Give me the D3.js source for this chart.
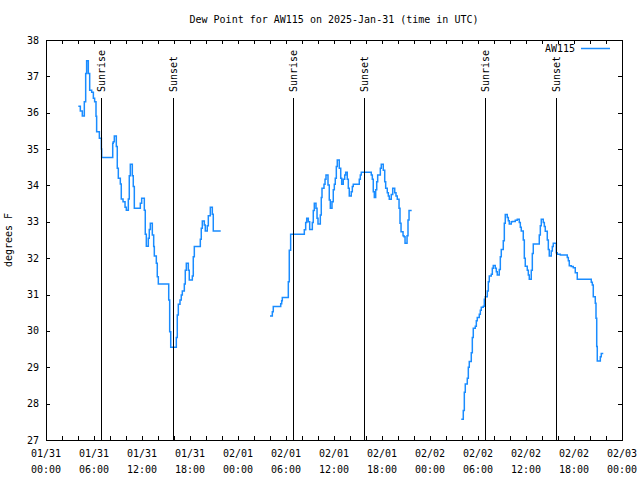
<!DOCTYPE html>
<html><head><meta charset="utf-8">
<script src="https://cdn.jsdelivr.net/npm/d3@7"></script>
<style>
body{margin:0;background:#fff}
text{font-family:"DejaVu Sans Mono","Liberation Mono",monospace;font-size:10px;fill:#000}
</style>
</head><body>
<svg id="chart" width="640" height="480"></svg>
<script>
// ---------- data ----------
const chartTitle = "Dew Point for AW115 on 2025-Jan-31 (time in UTC)";
const seriesName = "AW115";
const yAxisLabel = "degrees F";
const startUTC = Date.UTC(2025, 0, 31, 0, 0);
const endUTC = Date.UTC(2025, 1, 3, 0, 0);
const yTickValues = [27, 28, 29, 30, 31, 32, 33, 34, 35, 36, 37, 38];
const xLabelHours = [0, 6, 12, 18, 24, 30, 36, 42, 48, 54, 60, 66, 72];
const xMinorHours = d3.range(0, 73, 2);
const sunriseHours = [6.9, 30.9, 54.86];
const sunsetHours = [15.83, 39.79, 63.78];

// hours after 2025-01-31 00:00 UTC, and dew point (F)
const hours1 = [4.04,4.29,4.54,4.79,4.96,5.08,5.29,5.46,5.71,5.92,6.08,6.25,6.33,6.67,6.92,6.96,8.34,8.41,8.54,8.79,8.91,9.04,9.29,9.41,9.63,9.88,10.04,10.29,10.41,10.54,10.79,10.91,11.04,11.79,11.96,12.29,12.41,12.54,12.79,12.91,13.04,13.29,13.46,13.54,13.79,13.91,14.04,15.34,15.46,15.59,16.29,16.41,16.54,16.75,16.91,17.04,17.29,17.41,17.54,17.79,17.91,18.29,18.41,18.54,19.29,19.41,19.54,19.79,19.91,20.16,20.29,20.54,20.79,20.91,21.84];
const values1 = [36.18,36.05,35.91,36.30,37.08,37.43,37.08,36.62,36.56,36.40,36.30,35.90,35.48,35.30,35.00,34.77,35.16,35.20,35.36,35.07,34.47,34.20,34.04,33.63,33.55,33.40,33.32,33.63,34.27,34.58,34.27,33.97,33.37,33.51,33.65,33.32,32.66,32.33,32.55,32.79,32.96,32.64,32.32,32.06,31.86,31.49,31.29,30.85,29.98,29.55,29.82,30.44,30.73,30.85,30.99,31.10,31.29,31.67,31.86,31.67,31.40,31.51,32.04,32.32,32.52,32.82,33.02,32.91,32.75,32.89,33.17,33.40,33.21,32.75,32.75];

const hours2 = [28.0,28.29,28.41,29.34,29.46,29.54,30.29,30.41,30.58,32.29,32.46,32.59,32.79,32.96,33.29,33.41,33.54,33.75,33.88,34.0,34.29,34.41,34.5,34.75,34.88,35.0,35.25,35.41,35.54,35.75,35.91,36.04,36.16,36.29,36.41,36.66,36.84,36.96,37.16,37.34,37.46,37.66,37.79,37.91,38.16,38.29,38.41,39.16,39.29,39.41,40.66,40.79,40.91,41.04,41.21,41.34,41.46,41.79,41.91,42.16,42.34,42.46,42.66,42.79,42.91,43.16,43.34,43.59,43.75,43.91,44.13,44.25,44.38,44.63,44.75,44.88,45.13,45.25,45.38,45.71];
const values2 = [30.41,30.53,30.67,30.75,30.83,30.92,31.35,32.22,32.66,32.78,32.98,33.10,33.00,32.79,32.98,33.31,33.51,33.37,33.10,32.94,33.19,33.67,33.92,34.03,34.17,34.29,34.01,33.60,33.37,33.55,33.88,34.03,34.20,34.52,34.70,34.47,34.20,34.03,34.17,34.29,34.36,34.17,33.92,33.71,33.83,33.97,34.03,34.17,34.29,34.36,34.29,34.17,33.83,33.67,33.88,34.10,34.29,34.47,34.58,34.42,34.10,33.92,33.80,33.71,33.62,33.75,33.92,33.80,33.71,33.62,33.37,32.96,32.73,32.62,32.59,32.41,32.62,33.05,33.31,33.31];

const hours3 = [51.91,52.16,52.29,52.41,52.66,52.79,52.91,53.16,53.29,53.41,53.66,53.79,53.91,54.16,54.29,54.41,54.66,54.79,54.91,55.16,55.29,55.41,55.66,55.79,55.91,56.16,56.29,56.41,56.66,56.79,56.91,57.16,57.29,57.41,57.66,57.79,57.91,58.16,58.29,58.66,58.91,59.16,59.29,59.41,59.66,59.79,59.91,60.16,60.29,60.41,60.66,60.79,60.91,61.66,61.79,61.91,62.16,62.29,62.41,62.66,62.79,62.91,63.16,63.29,63.41,63.79,63.91,64.29,65.16,65.29,65.41,65.66,65.91,66.16,66.41,68.16,68.29,68.41,68.66,68.75,68.84,68.91,69.29,69.41,69.66];
const values3 = [27.57,27.81,28.31,28.54,28.70,29.00,29.16,29.40,29.82,30.07,30.13,30.28,30.37,30.46,30.57,30.65,30.68,30.87,30.94,31.10,31.35,31.51,31.56,31.72,31.80,31.72,31.63,31.54,31.69,32.04,32.24,32.48,32.96,33.20,33.12,33.03,32.94,33.00,33.01,33.04,33.07,32.98,32.85,32.75,32.50,32.00,31.78,31.67,31.54,31.42,31.67,32.13,32.39,32.64,32.89,33.07,32.98,32.87,32.74,32.50,32.24,32.06,32.20,32.32,32.41,32.15,32.11,32.09,32.02,31.93,31.79,31.77,31.74,31.60,31.42,31.34,31.26,30.94,30.76,30.35,29.57,29.17,29.29,29.38,29.38];

// ---------- drawing ----------
const L = 46, R = 622, T = 40, B = 440;
const svg = d3.select("#chart");
const toDate = h => new Date(startUTC + h * 3600000);

const x = d3.scaleUtc().domain([new Date(startUTC), new Date(endUTC)]).range([L, R]);
const y = d3.scaleLinear().domain([27, 38]).range([B, T]);

const lineColor = "#1a8cff";

// title
svg.append("text").attr("x", (L + R) / 2).attr("y", 23)
  .attr("text-anchor", "middle").text(chartTitle);

// y axis label
svg.append("text").attr("transform", `translate(12,240) rotate(-90)`)
  .attr("text-anchor", "middle").text(yAxisLabel);

// ticks
const tickG = svg.append("g").attr("stroke", "#000").attr("stroke-width", 1)
  .attr("shape-rendering", "crispEdges");
xMinorHours.forEach(h => {
  const px = Math.round(x(toDate(h))) + 0.5;
  tickG.append("line").attr("x1", px).attr("x2", px).attr("y1", B).attr("y2", B - 4);
  tickG.append("line").attr("x1", px).attr("x2", px).attr("y1", T).attr("y2", T + 4);
});
yTickValues.forEach(v => {
  const py = Math.round(y(v)) + 0.5;
  tickG.append("line").attr("x1", L).attr("x2", L + 4).attr("y1", py).attr("y2", py);
  tickG.append("line").attr("x1", R).attr("x2", R - 4).attr("y1", py).attr("y2", py);
});

// y tick labels
svg.append("g").selectAll("text").data(yTickValues).join("text")
  .attr("x", 39).attr("y", d => y(d)).attr("dy", "0.35em")
  .attr("text-anchor", "end").text(d => d);

// x tick labels
const fmtDay = d3.utcFormat("%m/%d"), fmtTime = d3.utcFormat("%H:%M");
const xl = svg.append("g").selectAll("g").data(xLabelHours).join("g")
  .attr("transform", d => `translate(${x(toDate(d))},0)`);
xl.append("text").attr("y", 457).attr("text-anchor", "middle").text(d => fmtDay(toDate(d)));
xl.append("text").attr("y", 473).attr("text-anchor", "middle").text(d => fmtTime(toDate(d)));

// data
const line = d3.line().x(d => x(d.t)).y(d => y(d.v)).curve(d3.curveStepAfter);
const segments = [[hours1, values1], [hours2, values2], [hours3, values3]];
segments.forEach(([hs, vs]) => {
  const pts = hs.map((h, i) => ({ t: toDate(h), v: vs[i] }));
  svg.append("path").datum(pts).attr("d", line)
    .attr("fill", "none").attr("stroke", lineColor).attr("stroke-width", 1.5);
});

// sunrise / sunset markers
const sunTop = 36.4;
const markers = sunriseHours.map(h => ({ h, label: "Sunrise" }))
  .concat(sunsetHours.map(h => ({ h, label: "Sunset" })));
markers.forEach(m => {
  const px = Math.round(x(toDate(m.h))) + 0.5;
  svg.append("line").attr("x1", px).attr("x2", px).attr("y1", y(sunTop)).attr("y2", B)
    .attr("stroke", "#000").attr("stroke-width", 1).attr("shape-rendering", "crispEdges");
  svg.append("text").attr("transform", `translate(${px},92) rotate(-90)`)
    .attr("dy", "0.35em").attr("text-anchor", "start").text(m.label);
});

// frame
svg.append("rect").attr("x", L + 0.5).attr("y", T + 0.5).attr("width", R - L).attr("height", B - T)
  .attr("fill", "none").attr("stroke", "#000").attr("stroke-width", 1)
  .attr("shape-rendering", "crispEdges");

// legend
svg.append("text").attr("x", 575).attr("y", 48).attr("dy", "0.35em")
  .attr("text-anchor", "end").text(seriesName);
svg.append("line").attr("x1", 581).attr("x2", 610).attr("y1", 48.5).attr("y2", 48.5)
  .attr("stroke", lineColor).attr("stroke-width", 1.5);
</script>
</body></html>
